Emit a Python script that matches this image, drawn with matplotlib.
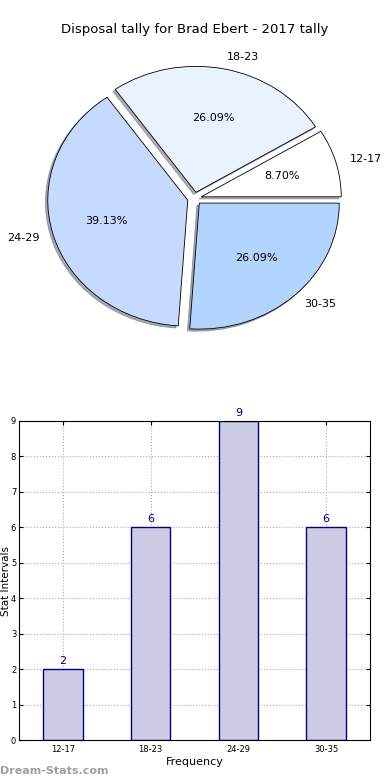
import matplotlib
matplotlib.use('Agg')
import matplotlib.pyplot as plt

# Data
categories = ['12-17', '18-23', '24-29', '30-35']
counts = [2, 6, 9, 6]
pie_colors = ['#ffffff', '#eaf2ff', '#c6d9ff', '#b3d4ff']

fig = plt.figure(figsize=(3.9, 7.8), dpi=100)

# ---- Pie ----
ax1 = fig.add_axes([19.5 / 390, 424 / 780, 350 / 390, 315 / 780])
wedges, texts, autotexts = ax1.pie(
    counts, labels=categories, colors=pie_colors, autopct='%.2f%%',
    explode=[0.05] * len(counts),
    shadow={'ox': -0.012, 'oy': -0.012, 'shade': 0.6},
    startangle=0,
    wedgeprops=dict(edgecolor='black', linewidth=0.6),
    textprops=dict(fontsize=8))
ax1.set_aspect('auto')
ax1.set_xlim(-1.25, 1.25)
ax1.set_ylim(-1.25, 1.25)
fig.text(0.5, 1 - 30 / 780, 'Disposal tally for Brad Ebert - 2017 tally',
         ha='center', va='center', fontsize=9.5)

# ---- Bars ----
ax2 = fig.add_axes([19 / 390, 40 / 780, 351 / 390, 319 / 780])
x = range(len(categories))
ax2.bar(x, counts, width=0.45, color='#ccccE5', edgecolor='navy',
        linewidth=1.0, zorder=2)
for xi, v in zip(x, counts):
    ax2.text(xi, v + 0.08, str(v), ha='center', va='bottom',
             color='navy', fontsize=8)
ax2.set_xlim(-0.5, 3.5)
ax2.set_ylim(0, 9)
ax2.set_xticks(list(x))
ax2.set_xticklabels(categories, fontsize=6)
ax2.set_yticks(range(10))
ax2.tick_params(axis='y', labelsize=6, pad=2)
ax2.tick_params(direction='in', top=True, right=True, length=3)
ax2.grid(True, linestyle=':', color='#aaaaaa', linewidth=0.8, zorder=0)
ax2.set_axisbelow(True)
ax2.set_xlabel('Frequency', fontsize=8, labelpad=2)
ax2.set_ylabel('Stat Intervals', fontsize=7.5, labelpad=0)

fig.text(0.0, 1 - 771 / 780, 'Dream-Stats.com', ha='left', va='center',
         fontsize=8, color='#a0a0a0', fontweight='bold')

fig.savefig('out.png', dpi=100)
